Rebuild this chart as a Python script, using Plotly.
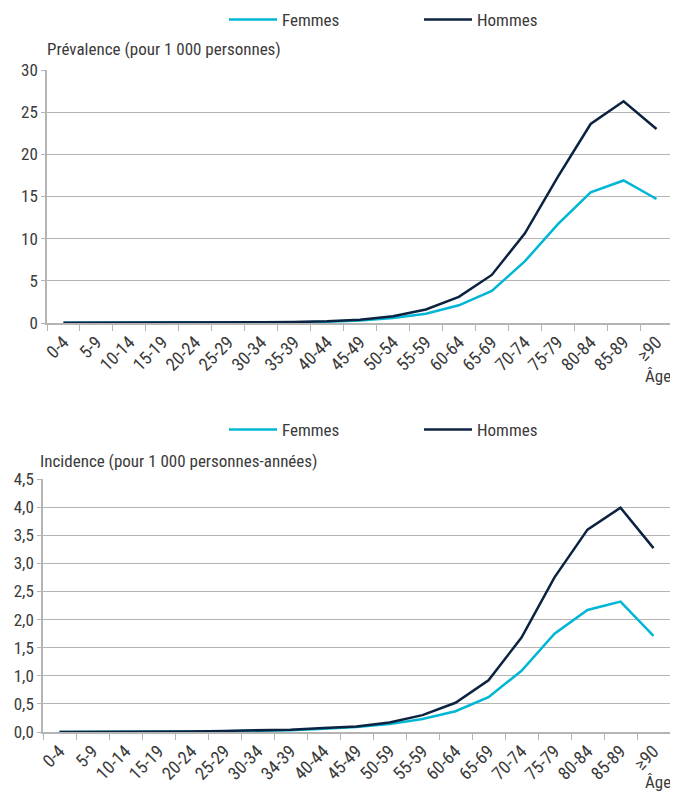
import plotly.graph_objects as go

# categories
ages_prev = ["0-4", "5-9", "10-14", "15-19", "20-24", "25-29", "30-34", "35-39", "40-44",
             "45-49", "50-54", "55-59", "60-64", "65-69", "70-74", "75-79", "80-84", "85-89", "≥90"]
ages_inc = ["0-4", "5-9", "10-14", "15-19", "20-24", "25-29", "30-34", "34-39", "40-44",
            "45-49", "50-59", "55-59", "60-64", "65-69", "70-74", "75-79", "80-84", "85-89", "≥90"]

# prevalence (per 1 000 persons)
prev_femmes = [0.02, 0.02, 0.02, 0.02, 0.03, 0.04, 0.06, 0.09, 0.15,
               0.3, 0.6, 1.1, 2.1, 3.8, 7.3, 11.7, 15.5, 16.9, 14.7]
prev_hommes = [0.02, 0.02, 0.02, 0.03, 0.04, 0.05, 0.08, 0.12, 0.2,
               0.4, 0.8, 1.6, 3.1, 5.7, 10.6, 17.3, 23.6, 26.3, 23.0]

# incidence (per 1 000 person-years)
inc_femmes = [0.0, 0.0, 0.0, 0.0, 0.01, 0.015, 0.02, 0.03, 0.06,
              0.09, 0.14, 0.23, 0.37, 0.62, 1.09, 1.75, 2.17, 2.32, 1.71]
inc_hommes = [0.0, 0.0, 0.0, 0.0, 0.01, 0.02, 0.03, 0.04, 0.07,
              0.1, 0.17, 0.3, 0.52, 0.92, 1.68, 2.75, 3.6, 3.99, 3.27]

FONT = "Roboto Condensed, Liberation Sans, sans-serif"
CYAN = "#00b6d5"
NAVY = "#0b2341"
GRID = "#b4b4b4"
TXT = "#3a3a3a"

fig = go.Figure()

fig.add_trace(go.Scatter(x=ages_prev, y=prev_femmes, name="Femmes", mode="lines",
                         line=dict(color=CYAN, width=2.5), xaxis="x", yaxis="y", legend="legend"))
fig.add_trace(go.Scatter(x=ages_prev, y=prev_hommes, name="Hommes", mode="lines",
                         line=dict(color=NAVY, width=2.5), xaxis="x", yaxis="y", legend="legend"))
fig.add_trace(go.Scatter(x=ages_inc, y=inc_femmes, name="Femmes", mode="lines",
                         line=dict(color=CYAN, width=2.5), xaxis="x2", yaxis="y2", legend="legend2"))
fig.add_trace(go.Scatter(x=ages_inc, y=inc_hommes, name="Hommes", mode="lines",
                         line=dict(color=NAVY, width=2.5), xaxis="x2", yaxis="y2", legend="legend2"))

# page body has an 8px margin, so the figure is 8px smaller and positions are shifted
OFF = 8
W = 678 - OFF
H = 792 - OFF


def py(px):
    return 1 - (px - OFF) / H


def pxx(px):
    return (px - OFF) / W


xcommon = dict(type="category", tickson="boundaries", ticks="outside", ticklen=6,
               tickcolor=GRID, showline=True, linecolor=GRID, linewidth=1.5, automargin=False,
               range=[-0.5, len(ages_prev) - 0.5],
               tickangle=-45, showgrid=False, tickfont=dict(size=18, color=TXT, family=FONT))
ycommon = dict(showline=True, linecolor=GRID, linewidth=1.5, gridcolor=GRID, gridwidth=1.2,
               ticks="outside", ticklen=4, tickcolor=GRID, zeroline=False, automargin=False,
               tickfont=dict(size=17, color=TXT, family=FONT))

legcommon = dict(orientation="h", xanchor="left", yanchor="middle", bgcolor="rgba(0,0,0,0)",
                 font=dict(size=17, color=TXT, family=FONT), itemwidth=48,
                 entrywidth=132, entrywidthmode="pixels")

fig.update_layout(
    width=W, height=H,
    margin=dict(l=0, r=0, t=0, b=0, autoexpand=False),
    paper_bgcolor="white", plot_bgcolor="white",
    font=dict(family=FONT, color=TXT),
    xaxis=dict(domain=[pxx(47), pxx(673)], anchor="y", **xcommon),
    yaxis=dict(domain=[py(323), py(70)], anchor="x", range=[0, 30], dtick=5, **ycommon),
    xaxis2=dict(domain=[pxx(43), pxx(670)], anchor="y2", **xcommon),
    yaxis2=dict(domain=[py(732), py(479)], anchor="x2", range=[0, 4.5], dtick=0.5,
                tickformat=".1f", **ycommon),
    separators=", ",
    legend=dict(x=pxx(224), y=py(20), **legcommon),
    legend2=dict(x=pxx(224), y=py(430), **legcommon),
    annotations=[
        dict(text="Prévalence (pour 1 000 personnes)", x=pxx(45), y=py(49), xref="paper", yref="paper",
             xanchor="left", yanchor="middle", showarrow=False, font=dict(size=17, color=TXT, family=FONT)),
        dict(text="Âge", x=pxx(673), y=py(376), xref="paper", yref="paper",
             xanchor="right", yanchor="middle", showarrow=False, font=dict(size=17, color=TXT, family=FONT)),
        dict(text="Incidence (pour 1 000 personnes-années)", x=pxx(38), y=py(461), xref="paper", yref="paper",
             xanchor="left", yanchor="middle", showarrow=False, font=dict(size=17, color=TXT, family=FONT)),
        dict(text="Âge", x=pxx(673), y=py(782), xref="paper", yref="paper",
             xanchor="right", yanchor="middle", showarrow=False, font=dict(size=17, color=TXT, family=FONT)),
    ],
)

fig.write_html("out.html")
